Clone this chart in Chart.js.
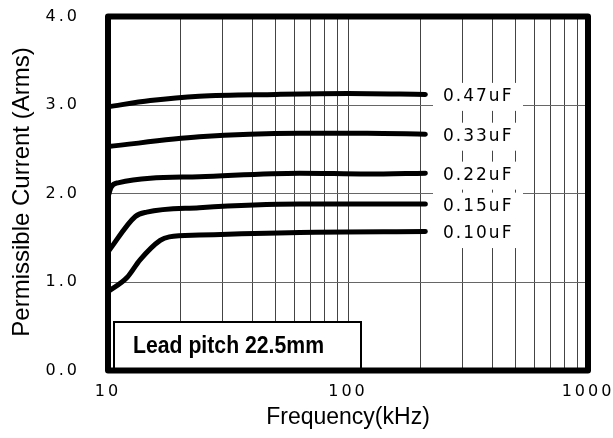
<!DOCTYPE html>
<html lang="en">
<head>
    <meta charset="UTF-8">
    <title>Permissible Current</title>
    <script src="https://cdn.jsdelivr.net/npm/chart.js"></script>
    <style>
        body { margin: 0; background: #fff; }
        #wrap { width: 613px; height: 438px; }
    </style>
</head>
<body>
    <div id="wrap"><canvas id="chart"></canvas></div>

    <script>
        // frequency points (kHz) and current (Arms)
        const seriesNames = ['0.47uF', '0.33uF', '0.22uF', '0.15uF', '0.10uF'];
        const freq047 = [10, 15, 24, 50, 100, 210];
        const amps047 = [2.98, 3.05, 3.10, 3.12, 3.13, 3.12];
        const freq033 = [10, 24, 63, 120, 210];
        const amps033 = [2.53, 2.64, 2.68, 2.68, 2.67];
        const freq022 = [10, 10.3, 11, 24, 63, 120, 210];
        const amps022 = [1.96, 2.07, 2.12, 2.19, 2.23, 2.22, 2.23];
        const freq015 = [10, 13, 14.5, 24, 63, 210];
        const amps015 = [1.34, 1.74, 1.79, 1.84, 1.88, 1.88];
        const freq010 = [10, 12, 13.6, 16.5, 18, 24, 63, 210];
        const amps010 = [0.89, 1.05, 1.25, 1.47, 1.51, 1.53, 1.56, 1.57];

        const xTicks = [10, 20, 30, 40, 50, 60, 70, 80, 90, 100, 200, 300, 400, 500, 600, 700, 800, 900, 1000];
        const xLabels = [10, 100, 1000];
        const yTicks = [0, 1, 2, 3, 4];
        const xTitle = 'Frequency(kHz)';
        const yTitle = 'Permissible Current (Arms)';
        const boxText = 'Lead pitch 22.5mm';

        const allFreq = [freq047, freq033, freq022, freq015, freq010];
        const allAmps = [amps047, amps033, amps022, amps015, amps010];

        const datasets = seriesNames.map((name, i) => ({
            label: name,
            data: allFreq[i].map((f, j) => ({ x: f, y: allAmps[i][j] })),
            borderColor: '#000',
            borderWidth: 5,
            borderCapStyle: 'round',
            borderJoinStyle: 'round',
            pointRadius: 0,
            fill: false,
            cubicInterpolationMode: 'monotone'
        }));

        const font = '"Liberation Sans", Arial, sans-serif';
        const tickFont = '"DejaVu Sans", sans-serif';

        const decor = {
            id: 'decor',
            beforeDraw(chart) {
                // tick labels in the original are widely spaced
                chart.ctx.letterSpacing = '3px';
            },
            beforeDatasetsDraw(chart) {
                const ctx = chart.ctx;
                ctx.letterSpacing = '0px';
                const y = chart.scales.y;
                ctx.save();
                ctx.fillStyle = '#fff';
                seriesNames.forEach((name, i) => {
                    const amps = allAmps[i];
                    const cy = y.getPixelForValue(amps[amps.length - 1]) + 2.5;
                    ctx.fillRect(433, cy - 14, 90, 28);
                });
                ctx.restore();
            },
            afterDatasetsDraw(chart) {
                const ctx = chart.ctx;
                const y = chart.scales.y;
                const a = chart.chartArea;
                ctx.save();
                ctx.fillStyle = '#000';
                ctx.font = '17px ' + tickFont;
                ctx.letterSpacing = '2px';
                ctx.textBaseline = 'middle';
                seriesNames.forEach((name, i) => {
                    const amps = allAmps[i];
                    const cy = y.getPixelForValue(amps[amps.length - 1]) + 2.5;
                    ctx.fillText(name, 443, cy);
                });
                ctx.letterSpacing = '0px';

                // lead pitch box
                ctx.fillStyle = '#fff';
                ctx.strokeStyle = '#000';
                ctx.lineWidth = 2;
                ctx.fillRect(114, 322, 247, a.bottom - 322);
                ctx.strokeRect(114, 322, 247, a.bottom - 322);
                ctx.fillStyle = '#000';
                ctx.font = 'bold 23px ' + font;
                ctx.textBaseline = 'alphabetic';
                const w = ctx.measureText(boxText).width;
                ctx.translate(133, 353);
                ctx.scale(191 / w, 1);
                ctx.fillText(boxText, 0, 0);
                ctx.restore();
            },
            afterDraw(chart) {
                const ctx = chart.ctx;
                const a = chart.chartArea;
                ctx.save();
                ctx.strokeStyle = '#000';
                ctx.lineWidth = 6;
                ctx.lineJoin = 'round';
                ctx.strokeRect(a.left, a.top, a.right - a.left, a.bottom - a.top);

                // axis titles
                ctx.fillStyle = '#000';
                ctx.textAlign = 'center';
                ctx.textBaseline = 'middle';
                ctx.font = '23px ' + font;
                ctx.fillText(xTitle, (a.left + a.right) / 2, 418);
                ctx.translate(22, 192);
                ctx.rotate(-Math.PI / 2);
                ctx.font = '24px ' + font;
                ctx.fillText(yTitle, 0, 0);
                ctx.restore();
            }
        };

        new Chart(document.getElementById('chart'), {
            type: 'line',
            data: { datasets: datasets },
            options: {
                responsive: true,
                maintainAspectRatio: false,
                animation: false,
                layout: { padding: { left: 0, right: 25, top: 16.5, bottom: 0 } },
                plugins: { legend: { display: false }, tooltip: { enabled: false } },
                scales: {
                    x: {
                        type: 'logarithmic',
                        min: 10,
                        max: 1000,
                        afterFit: s => { s.height = 67.5; s.paddingLeft = 0; s.paddingRight = 0; },
                        afterBuildTicks: s => { s.ticks = xTicks.map(v => ({ value: v })); },
                        ticks: {
                            autoSkip: false,
                            maxRotation: 0,
                            padding: 12,
                            color: '#000',
                            font: { family: tickFont, size: 16 },
                            callback: v => xLabels.includes(v) ? String(v) : ''
                        },
                        grid: { color: '#444', lineWidth: 1, drawTicks: false },
                        border: { display: false }
                    },
                    y: {
                        min: 0,
                        max: 4,
                        afterFit: s => { s.width = 108; s.paddingTop = 0; s.paddingBottom = 0; },
                        afterBuildTicks: s => { s.ticks = yTicks.map(v => ({ value: v })); },
                        ticks: {
                            padding: 28,
                            color: '#000',
                            font: { family: tickFont, size: 16 },
                            callback: v => v.toFixed(1)
                        },
                        grid: { color: '#666', lineWidth: 1, drawTicks: false },
                        border: { display: false }
                    }
                }
            },
            plugins: [decor]
        });
    </script>
</body>
</html>
